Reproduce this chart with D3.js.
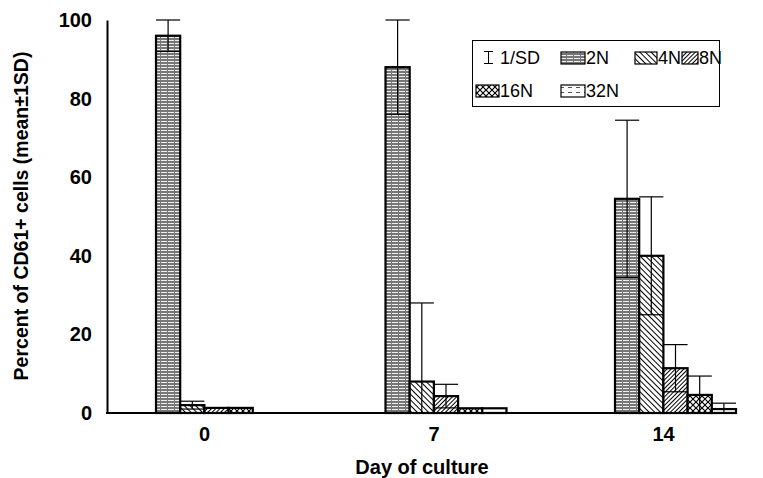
<!DOCTYPE html>
<html>
<head>
<meta charset="utf-8">
<script src="https://cdn.jsdelivr.net/npm/d3@7"></script>
<style>
  body { margin: 0; background: #fff; }
  svg text { font-family: "Liberation Sans", Arial, sans-serif; fill: #000; }
</style>
</head>
<body>
<svg id="chart" width="763" height="478"></svg>
<script>
// data (percent of CD61+ cells, mean and 1 SD)
var days = ["0", "7", "14"];
var ploidy = ["2N", "4N", "8N", "16N", "32N"];
var pct2N = [96, 88, 54.5];
var pct4N = [2, 8, 40];
var pct8N = [1.3, 4.3, 11.4];
var pct16N = [1.3, 1.2, 4.6];
var pct32N = [0, 1.2, 1];
var sd2N = [4, 12, 20];
var sd4N = [1, 20, 15];
var sd8N = [0, 3, 6];
var sd16N = [0, 0, 4.8];
var sd32N = [0, 0, 1.5];
var yTicks = [0, 20, 40, 60, 80, 100];

var means = [pct2N, pct4N, pct8N, pct16N, pct32N];
var sds = [sd2N, sd4N, sd8N, sd16N, sd32N];

var svg = d3.select("#chart");

// fill patterns
var defs = svg.append("defs");
function pat(id, w, h, tr) {
	var p = defs.append("pattern").attr("id", id)
		.attr("patternUnits", "userSpaceOnUse")
		.attr("width", w).attr("height", h);
	if (tr) p.attr("patternTransform", tr);
	return p;
}
var p2 = pat("p2N", 7, 3);
p2.append("rect").attr("width", 7).attr("height", 3).attr("fill", "#777");
p2.append("rect").attr("y", 1).attr("width", 6).attr("height", 1).attr("fill", "#eee");

var p4 = pat("p4N", 4, 4, "rotate(45)");
p4.append("rect").attr("width", 4).attr("height", 4).attr("fill", "#fff");
p4.append("rect").attr("width", 4).attr("height", 1).attr("fill", "#000");

var p8 = pat("p8N", 3, 3, "rotate(-45)");
p8.append("rect").attr("width", 3).attr("height", 3).attr("fill", "#fff");
p8.append("rect").attr("width", 3).attr("height", 1).attr("fill", "#000");

var p16 = pat("p16N", 6, 6);
p16.append("rect").attr("width", 6).attr("height", 6).attr("fill", "#fff");
p16.append("path").attr("d", "M0,0L6,6M6,0L0,6").attr("stroke", "#000").attr("stroke-width", 1.2);

var p32 = pat("p32N", 8, 5);
p32.append("rect").attr("width", 8).attr("height", 5).attr("fill", "#fff");
p32.append("rect").attr("y", 2).attr("width", 4).attr("height", 1).attr("fill", "#555");

var fills = ploidy.map(function(s) { return "url(#p" + s + ")"; });

// scales
var x0 = d3.scalePoint().domain(days).range([204, 663]);
var x1 = d3.scaleBand().domain(ploidy).range([0, 121]);
var groupShift = -48;
var y = d3.scaleLinear().domain([0, 100]).range([413, 20]);

var bars = [];
ploidy.forEach(function(s, i) {
	days.forEach(function(d, j) {
		bars.push({ day: d, s: s, i: i, v: means[i][j], sd: sds[i][j] });
	});
});

svg.append("g").selectAll("rect")
	.data(bars.filter(function(b) { return b.v > 0; }))
	.enter().append("rect")
	.attr("x", function(b) { return x0(b.day) + groupShift + x1(b.s); })
	.attr("y", function(b) { return y(b.v); })
	.attr("width", x1.bandwidth())
	.attr("height", function(b) { return y(0) - y(b.v); })
	.attr("fill", function(b) { return fills[b.i]; })
	.attr("stroke", "#000")
	.attr("stroke-width", 2.2);

// error bars, drawn on top of the bars
function cx(b) { return x0(b.day) + groupShift + x1(b.s) + x1.bandwidth() / 2; }
var eb = svg.append("g").attr("stroke", "#000").attr("stroke-width", 1.2)
	.selectAll("g")
	.data(bars.filter(function(b) { return b.sd > 0; }))
	.enter().append("g");
eb.append("line")
	.attr("x1", cx).attr("x2", cx)
	.attr("y1", function(b) { return y(b.v + b.sd); })
	.attr("y2", function(b) { return y(Math.max(0, b.v - b.sd)); });
eb.append("line")
	.attr("x1", function(b) { return cx(b) - x1.bandwidth() / 2; })
	.attr("x2", function(b) { return cx(b) + x1.bandwidth() / 2; })
	.attr("y1", function(b) { return y(b.v + b.sd); })
	.attr("y2", function(b) { return y(b.v + b.sd); });
eb.filter(function(b) { return b.v - b.sd > 0; }).append("line")
	.attr("x1", function(b) { return cx(b) - x1.bandwidth() / 2; })
	.attr("x2", function(b) { return cx(b) + x1.bandwidth() / 2; })
	.attr("y1", function(b) { return y(b.v - b.sd); })
	.attr("y2", function(b) { return y(b.v - b.sd); });

// axes
var yAxis = svg.append("g")
	.attr("transform", "translate(107,0)")
	.call(d3.axisLeft(y).tickValues(yTicks).tickSize(0).tickSizeOuter(0).tickPadding(15));
yAxis.select(".domain").attr("stroke-width", 2);
yAxis.selectAll("text").attr("font-size", 20).attr("font-weight", "bold");

var xAxis = svg.append("g")
	.attr("transform", "translate(0,413)")
	.call(d3.axisBottom(x0).tickSize(0).tickPadding(14));
xAxis.select(".domain").remove();
xAxis.selectAll("text").attr("font-size", 20).attr("font-weight", "bold");
svg.append("line")
	.attr("x1", 106).attr("x2", 735)
	.attr("y1", 413).attr("y2", 413)
	.attr("stroke", "#000").attr("stroke-width", 2.2);

svg.append("text")
	.attr("x", 422).attr("y", 474)
	.attr("text-anchor", "middle")
	.attr("font-size", 20).attr("font-weight", "bold")
	.text("Day of culture");

svg.append("text")
	.attr("transform", "translate(28,216) rotate(-90)")
	.attr("text-anchor", "middle")
	.attr("font-size", 19.5).attr("font-weight", "bold")
	.text("Percent of CD61+ cells (mean\u00b11SD)");

// legend
var lg = svg.append("g");
lg.append("rect")
	.attr("x", 472.5).attr("y", 40.5).attr("width", 247).attr("height", 66)
	.attr("fill", "#fff").attr("stroke", "#000").attr("stroke-width", 1);
lg.append("path")
	.attr("d", "M484,51.5H493M488.5,51.5V63.5M484,63.5H493")
	.attr("stroke", "#000").attr("stroke-width", 1).attr("fill", "none");
lg.append("text").attr("x", 500).attr("y", 64).attr("font-size", 18).text("1/SD");

var legendItems = [
	{ s: "2N", x: 561, w: 24, row: 0 },
	{ s: "4N", x: 635, w: 22, row: 0 },
	{ s: "8N", x: 682, w: 16, row: 0 },
	{ s: "16N", x: 476, w: 23, row: 1 },
	{ s: "32N", x: 561, w: 24, row: 1 }
];
var li = lg.selectAll("g.item").data(legendItems).enter().append("g").attr("class", "item");
li.append("rect")
	.attr("x", function(d) { return d.x; })
	.attr("y", function(d) { return 52 + d.row * 33; })
	.attr("width", function(d) { return d.w; })
	.attr("height", 12)
	.attr("fill", function(d) { return fills[ploidy.indexOf(d.s)]; })
	.attr("stroke", "#000").attr("stroke-width", 1.2);
li.append("text")
	.attr("x", function(d) { return d.x + d.w + 1; })
	.attr("y", function(d) { return 64 + d.row * 33; })
	.attr("font-size", 18)
	.text(function(d) { return d.s; });
</script>
</body>
</html>
